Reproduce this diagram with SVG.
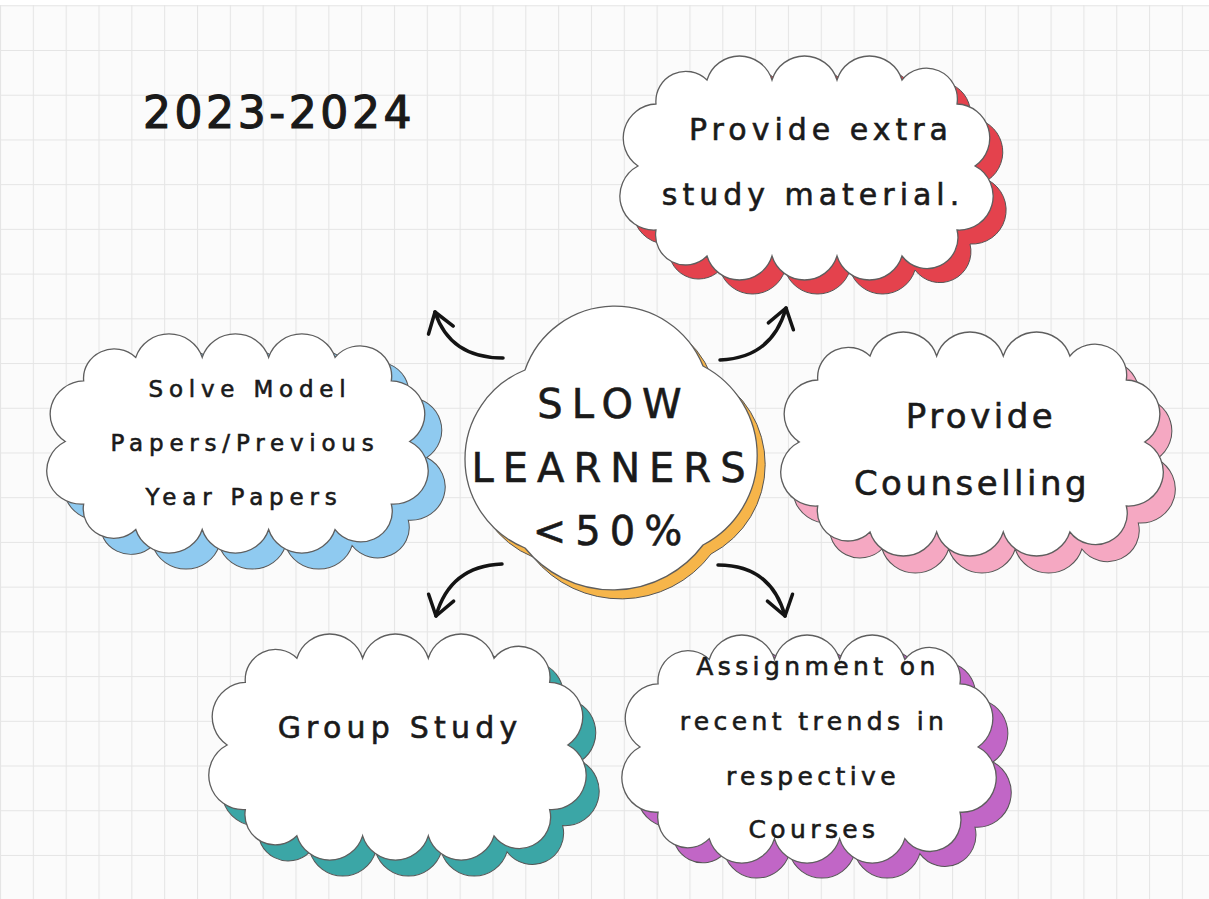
<svg xmlns="http://www.w3.org/2000/svg" xmlns:xlink="http://www.w3.org/1999/xlink" width="1209" height="899" viewBox="0 0 1209 899">
<style>
.t{font-family:"DejaVu Sans","Liberation Sans",sans-serif;fill:#1a1a1a;stroke:#1a1a1a;stroke-width:0.6;text-anchor:middle}
.cloud{fill:#ffffff;stroke:#5e5e5e;stroke-width:1.3}
.sh{stroke:#555;stroke-width:1}
.arrow{fill:none;stroke:#141414;stroke-width:3.5;stroke-linecap:round}
</style>
<defs>
<pattern id="grid" patternUnits="userSpaceOnUse" x="0" y="5.28" width="32.83" height="44.72">
<path d="M0,0.5 H32.83 M0.5,0 V44.72" fill="none" stroke="#e5e5e5" stroke-width="1.2"/>
</pattern>
<path id="cloud" d="M81,26 A34,34 0 0 1 146,26 A34,34 0 0 1 211,26 A34,34 0 0 1 276,26 A31,31 0 0 1 331,50 A34,34 0 0 1 349,112 A34,34 0 0 1 331,176 A31,31 0 0 1 276,202 A34,34 0 0 1 211,202 A34,34 0 0 1 146,202 A34,34 0 0 1 81,202 A30,30 0 0 1 30,176 A34,34 0 0 1 12,112 A34,34 0 0 1 30,50 A30,30 0 0 1 81,26 Z"/>
<path id="center" d="M525,370 A95,95 0 0 1 703,366 A101,101 0 0 1 703,545 A113,113 0 0 1 525,548 A96,96 0 0 1 525,370 Z"/>
<marker id="ah" markerUnits="userSpaceOnUse" viewBox="-26 -18 30 36" refX="0" refY="0" markerWidth="30" markerHeight="36" orient="auto">
<path d="M-19,-13 L0,0 L-19,13" fill="none" stroke="#141414" stroke-width="3.5" stroke-linecap="round" stroke-linejoin="round"/>
</marker>
</defs>
<rect x="0" y="0" width="1209" height="899" fill="#fbfbfb"/>
<rect x="0" y="0" width="1209" height="899" fill="url(#grid)"/>
<rect x="0" y="0" width="1209" height="5" fill="#ffffff"/>

<g id="title"><text class="t" x="279" y="128" font-size="44" letter-spacing="3.6" style="stroke-width:1.2">2023-2024</text></g>

<g id="connectors">
<path class="arrow" d="M503,358 Q450,358 435,312" marker-end="url(#ah)"/>
<path class="arrow" d="M720,360 Q772,358 786,308" marker-end="url(#ah)"/>
<path class="arrow" d="M502,564 Q450,566 436,616" marker-end="url(#ah)"/>
<path class="arrow" d="M718,565 Q771,565 785,616" marker-end="url(#ah)"/>
</g>

<g id="node-extra-material">
<use xlink:href="#cloud" class="sh" fill="#e4424d" transform="translate(639,68)"/>
<use xlink:href="#cloud" class="cloud" transform="translate(626,54)"/>
<text class="t" font-size="30" letter-spacing="5"><tspan x="821" y="140">Provide extra</tspan><tspan x="813" y="205">study material.</tspan></text>
</g>

<g id="node-model-papers">
<use xlink:href="#cloud" class="sh" fill="#8fcaf0" transform="translate(70,348) scale(1.022,0.978)"/>
<use xlink:href="#cloud" class="cloud" transform="translate(53,332) scale(1.022,0.978)"/>
<text class="t" font-size="23" letter-spacing="5.8"><tspan x="250" y="397">Solve Model</tspan><tspan x="245" y="451">Papers/Previous</tspan><tspan x="244" y="505">Year Papers</tspan></text>
</g>

<g id="node-counselling">
<use xlink:href="#cloud" class="sh" fill="#f5a8c2" transform="translate(799,347) scale(1.025,1.0)"/>
<use xlink:href="#cloud" class="cloud" transform="translate(787,330) scale(1.025,1.0)"/>
<text class="t" font-size="34" letter-spacing="3.5"><tspan x="981" y="428">Provide</tspan><tspan x="972" y="495">Counselling</tspan></text>
</g>

<g id="node-group-study">
<use xlink:href="#cloud" class="sh" fill="#3ba6a6" transform="translate(228,648) scale(1.011,1.009)"/>
<use xlink:href="#cloud" class="cloud" transform="translate(215,632) scale(1.011,1.009)"/>
<text class="t" font-size="30" letter-spacing="5.2" x="400" y="738">Group Study</text>
</g>

<g id="node-assignment">
<use xlink:href="#cloud" class="sh" fill="#c166c6" transform="translate(643,648) scale(1.003,1.018)"/>
<use xlink:href="#cloud" class="cloud" transform="translate(628,633) scale(1.003,1.018)"/>
<text class="t" font-size="25" letter-spacing="4.4"><tspan x="818" y="675">Assignment on</tspan><tspan x="814" y="730">recent trends in</tspan><tspan x="813" y="785">respective</tspan><tspan x="814" y="838">Courses</tspan></text>
</g>

<g id="node-slow-learners">
<use xlink:href="#center" class="sh" fill="#f6b54a" transform="translate(8,9)"/>
<use xlink:href="#center" class="cloud"/>
<text class="t" font-size="40" letter-spacing="9"><tspan x="614" y="418">SLOW</tspan><tspan x="613" y="482">LEARNERS</tspan><tspan x="612" y="545">&lt;50%</tspan></text>
</g>
</svg>
